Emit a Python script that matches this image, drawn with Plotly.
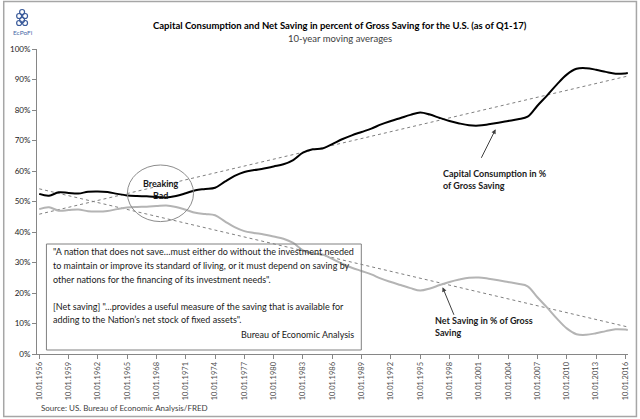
import numpy as np
import pandas as pd
import plotly.graph_objects as go

# 10-year moving averages (one point per October, plus Q1-17)
dates = [f"{y}-10-01" for y in range(1956, 2017)] + ["2017-01-01"]

capital_consumption = [
    52.5, 51.9, 53.0, 52.8, 52.6, 53.2, 53.3, 53.1, 52.5, 52.0,
    51.8, 51.7, 51.5, 51.3, 51.8, 52.7, 53.7, 54.1, 54.5, 56.5,
    58.4, 59.7, 60.3, 60.8, 61.5, 62.2, 63.6, 66.0, 67.1, 67.4,
    68.8, 70.4, 71.7, 72.8, 73.9, 75.3, 76.4, 77.4, 78.4, 79.2,
    78.5, 77.4, 76.4, 75.6, 75.0, 74.9, 75.3, 75.8, 76.4, 77.0,
    77.8, 81.4, 84.8, 88.4, 91.6, 93.5, 93.7, 93.2, 92.5, 91.9,
    92.0, 92.1,
]
net_saving = [
    47.5, 48.1, 47.0, 47.2, 47.4, 46.8, 46.7, 46.9, 47.5, 48.0,
    48.2, 48.3, 48.5, 48.7, 48.2, 47.3, 46.3, 45.9, 45.5, 43.5,
    41.6, 40.3, 39.7, 39.2, 38.5, 37.8, 36.4, 34.0, 32.9, 32.6,
    31.2, 29.6, 28.3, 27.2, 26.1, 24.7, 23.6, 22.6, 21.6, 20.8,
    21.5, 22.6, 23.6, 24.4, 25.0, 25.1, 24.7, 24.2, 23.6, 23.0,
    22.2, 18.6, 15.2, 11.6, 8.4, 6.5, 6.3, 6.8, 7.5, 8.1,
    8.0, 7.9,
]

quote_lines = [
    "\"A nation that does not save\u2026must either do without the investment needed",
    "to maintain or improve its standard of living, or it must depend on saving by",
    "other nations for the financing of its investment needs\".",
    "",
    "[Net saving] \"\u2026provides a useful measure of the saving that is available for",
    "adding to the Nation\u2019s net stock of fixed assets\".",
]

FONT = "Lato, Liberation Sans, Arial"

# plot area in pixels: x 35..630, y 49..354
L, R, T, B = 35, 630, 49, 354


def px(x):
    return (x - L) / (R - L)


def py(y):
    return (B - y) / (B - T)


# linear trends like Excel's trendline
t = pd.to_datetime(dates)
t_num = t.year + (t.dayofyear - 1) / 365.25
cc_trend = np.polyval(np.polyfit(t_num, capital_consumption, 1), t_num)
ns_trend = np.polyval(np.polyfit(t_num, net_saving, 1), t_num)

fig = go.Figure()
fig.add_trace(go.Scatter(x=dates, y=cc_trend, mode="lines",
                         line=dict(color="#808080", width=1, dash="dot")))
fig.add_trace(go.Scatter(x=dates, y=ns_trend, mode="lines",
                         line=dict(color="#808080", width=1, dash="dot")))
fig.add_trace(go.Scatter(x=dates, y=net_saving, mode="lines",
                         line=dict(color="#b4b4b4", width=2, shape="spline")))
fig.add_trace(go.Scatter(x=dates, y=capital_consumption, mode="lines",
                         line=dict(color="#000000", width=2, shape="spline")))

ann = []
ann.append(dict(x=px(340), y=py(25),
                text="<b>Capital Consumption and Net Saving in percent of Gross Saving for the U.S. (as of Q1-17)</b>",
                font=dict(size=9.5, color="#000000")))
ann.append(dict(x=px(340), y=py(39),
                text="10-year moving averages", font=dict(size=9.5, color="#404040")))
ann.append(dict(x=px(21), y=py(32),
                text="EcPoFi", font=dict(size=6.5, color="#4a6aa8")))

# quote box
for i, line in enumerate(quote_lines):
    if line:
        ann.append(dict(x=px(49), y=py(252 + i * 13.5),
                        xanchor="left", text=line, font=dict(size=9, color="#1a1a1a")))
ann.append(dict(x=px(356), y=py(334), xanchor="right",
                text="Bureau of Economic Analysis", font=dict(size=9, color="#1a1a1a")))

ann.append(dict(x=px(37), y=py(408), xanchor="left",
                text="Source: US. Bureau of Economic Analysis/FRED",
                font=dict(size=8, color="#404040")))

# labels and arrows
ann.append(dict(x=px(160), y=py(189),
                text="<b>Breaking<br>Bad</b>", font=dict(size=9, color="#1a1a1a")))
ann.append(dict(x=px(442), y=py(179.5), xanchor="left", align="left",
                text="<b>Capital Consumption in %<br>of Gross Saving</b>",
                font=dict(size=9, color="#1a1a1a")))
ann.append(dict(x=px(434), y=py(326.7), xanchor="left", align="left",
                text="<b>Net Saving in % of Gross<br>Saving</b>",
                font=dict(size=9, color="#1a1a1a")))
ann.append(dict(x=px(496.7), y=py(129.3), text="",
                showarrow=True, ax=-15, ay=30, arrowhead=2, arrowsize=0.9,
                arrowwidth=1, arrowcolor="#404040"))
ann.append(dict(x=px(443.3), y=py(287.3), text="",
                showarrow=True, ax=12, ay=29, arrowhead=2, arrowsize=0.9,
                arrowwidth=1, arrowcolor="#404040"))
for a in ann:
    a.setdefault("showarrow", False)
    a.setdefault("xanchor", "center")
    a["xref"] = "paper"
    a["yref"] = "paper"
    a["yanchor"] = "middle"

shapes = [
    # outer frame
    dict(type="rect", xref="paper", yref="paper", x0=px(1.5), x1=px(638.5),
         y0=py(416.5), y1=py(1.5), line=dict(color="#a6a6a6", width=1.5)),
    # quote box
    dict(type="rect", xref="paper", yref="paper", x0=px(44.5), x1=px(361.5),
         y0=py(350), y1=py(244), line=dict(color="#808080", width=1),
         fillcolor="rgba(255,255,255,0)"),
    # "Breaking Bad" circle
    dict(type="circle", xref="paper", yref="paper", x0=px(126), x1=px(192.6),
         y0=py(221.6), y1=py(165), line=dict(color="#8c8c8c", width=1)),
]
# small logo mark
for cx, cy in [(17, 16), (23, 16), (20, 12), (20, 20), (17, 23), (23, 23)]:
    shapes.append(dict(type="circle", xref="paper", yref="paper",
                       x0=px(cx - 2.5), x1=px(cx + 2.5), y0=py(cy + 2.5), y1=py(cy - 2.5),
                       line=dict(color="#3a5a9a", width=1.2)))

fig.update_layout(
    width=640, height=419,
    margin=dict(l=L, r=640 - R, t=T, b=419 - B),
    paper_bgcolor="white", plot_bgcolor="white",
    showlegend=False,
    font=dict(family=FONT, color="#1a1a1a"),
    annotations=ann, shapes=shapes,
)
fig.update_xaxes(
    type="date", range=["1956-07-10", "2017-01-08"],
    tick0="1956-10-01", dtick="M36", tickformat="%m.%d.%Y", tickangle=-90,
    ticks="outside", ticklen=4, tickcolor="#868686",
    showline=True, linecolor="#868686", linewidth=1,
    showgrid=False, zeroline=False,
    tickfont=dict(size=7.5, color="#505050"),
)
fig.update_yaxes(
    range=[0, 100], dtick=10, ticksuffix="%",
    ticks="outside", ticklen=4, tickcolor="#868686",
    showline=True, linecolor="#868686", linewidth=1,
    showgrid=False, zeroline=False,
    tickfont=dict(size=8, color="#1a1a1a"),
)

fig.write_html("out.html", config={"displayModeBar": False},
               post_script="document.body.style.margin='0';")
